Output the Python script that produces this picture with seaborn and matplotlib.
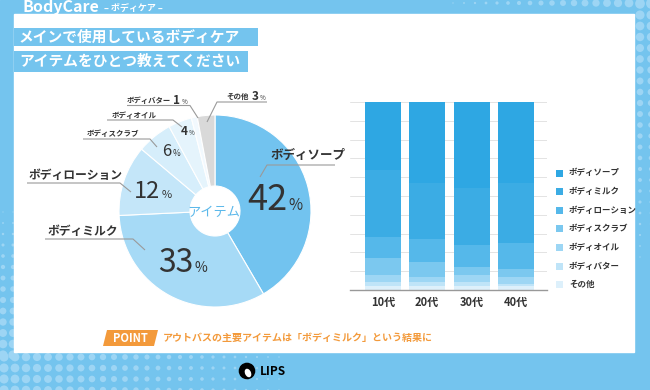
import numpy as np
import pandas as pd
import matplotlib
matplotlib.use("Agg")
import matplotlib.pyplot as plt
from matplotlib.patches import Rectangle, Polygon, Circle, Ellipse
import seaborn as sns

# データ
items = ["ボディソープ", "ボディミルク", "ボディローション", "ボディスクラブ",
         "ボディオイル", "ボディバター", "その他"]
share = [42, 33, 12, 6, 4, 1, 3]

ages = ["10代", "20代", "30代", "40代"]
soap = [36, 43, 46, 43]
milk = [36, 30, 30, 32]
lotion = [11, 12, 12, 14]
scrub = [9, 8, 4, 4]
oil = [4, 3, 4, 4]
butter = [2, 2, 2, 1]
other = [2, 2, 2, 2]

pie_colors = ["#72C3EF", "#A6DAF6", "#C4E6F9", "#D6EEFB", "#E5F4FC", "#F2F9FE", "#D9D9D9"]
bar_colors = ["#2EA7E3", "#3BACE4", "#55B8EA", "#7BC8EF", "#9DD6F4", "#BFE4F8", "#DDF0FB"]

BG = "#74C4EE"
DOT = "#9DD5F4"
TXT = "#333333"
ORANGE = "#F39A3B"

sns.set_style("white")
plt.rcParams["font.family"] = ["Noto Sans CJK JP", "DejaVu Sans"]

W, H = 650, 390
fig = plt.figure(figsize=(6.5, 3.9), dpi=100)


def px_axes(x0, y0, w, h):
    # 左上基準のピクセル座標で軸を置く
    return fig.add_axes([x0 / W, 1 - (y0 + h) / H, w / W, h / H])


# 背景
bg = px_axes(0, 0, W, H)
bg.set_xlim(0, W)
bg.set_ylim(H, 0)
bg.axis("off")
bg.set_zorder(0)
bg.add_patch(Rectangle((0, 0), W, H, color=BG))
# 水玉模様（装飾）
for x in range(4, 330, 11):
    for y in range(357, 392, 11):
        r = 4.6 * (1 - x / 330)
        if r > 0.6:
            bg.add_patch(Circle((x, y), r, color=DOT, lw=0))
for x in range(3, 15, 10):
    for y in range(190, 356, 11):
        r = 4.6 * (y - 190) / 165
        if r > 0.6:
            bg.add_patch(Circle((x, y), r, color=DOT, lw=0))
for x in range(640, 655, 11):
    for y in range(4, 300, 11):
        r = 4.8 * (1 - y / 300)
        if r > 0.6:
            bg.add_patch(Circle((x, y), r, color=DOT, lw=0))
for x in range(420, 655, 11):
    for y in range(3, 14, 11):
        r = 4.8 * (x - 420) / 230
        if r > 0.6:
            bg.add_patch(Circle((x, y), r, color=DOT, lw=0))
bg.add_patch(Rectangle((14, 14), 620, 338, color="white"))

# 円グラフ
cx, cy, R = 215, 211, 96
pax = px_axes(cx - R, cy - R, 2 * R, 2 * R)
pax.set_zorder(1)
pax.pie(share, colors=pie_colors, startangle=90, counterclock=False,
        wedgeprops=dict(width=1 - 25 / R, edgecolor="white", linewidth=0.8))
pax.set_xlim(-1, 1)
pax.set_ylim(-1, 1)
pax.axis("off")

# 積み上げ棒グラフ
df = pd.DataFrame({"age": ages, items[0]: soap, items[1]: milk, items[2]: lotion,
                   items[3]: scrub, items[4]: oil, items[5]: butter, items[6]: other})
bax = px_axes(350, 102, 197, 188)
bax.set_zorder(1)
for i, name in enumerate(items):
    top = df[items[i:]].sum(axis=1)
    sns.barplot(x=df["age"], y=top, color=bar_colors[i], saturation=1,
                width=0.81, linewidth=0, ax=bax)
bax.set_xlim(-0.74, 3.70)
bax.set_ylim(0, 100)
bax.set_yticks(range(10, 101, 10))
bax.yaxis.grid(True, color="#E3E3E3", lw=0.7)
bax.set_axisbelow(True)
bax.tick_params(axis="y", left=False, labelleft=False)
bax.tick_params(axis="x", bottom=False, labelsize=8, colors=TXT, pad=1)
for lab in bax.get_xticklabels():
    lab.set_fontweight("bold")
for s in ["left", "right", "top"]:
    bax.spines[s].set_visible(False)
bax.spines["bottom"].set_color("#999999")
bax.spines["bottom"].set_linewidth(1)
bax.set_xlabel("")
bax.set_ylabel("")

# 注記レイヤー
ov = px_axes(0, 0, W, H)
ov.set_xlim(0, W)
ov.set_ylim(H, 0)
ov.axis("off")
ov.set_zorder(3)
ov.patch.set_alpha(0)

# ヘッダー
ov.text(22, 7, "BodyCare", color="white", fontsize=11.5, fontweight="bold", va="center")
ov.text(104, 8, "– ボディケア –", color="white", fontsize=6.5, fontweight="bold", va="center")
ov.add_patch(Rectangle((14, 27.5), 244, 18.5, color=BG, lw=0))
ov.add_patch(Rectangle((14, 50.5), 234, 21, color=BG, lw=0))
ov.text(19, 37, "メインで使用しているボディケア", color="white", fontsize=10.6,
        fontweight="bold", va="center")
ov.text(19, 61, "アイテムをひとつ教えてください", color="white", fontsize=10.6,
        fontweight="bold", va="center")

# 円グラフのラベル
LINE = "#9A9A9A"


def leader(pts):
    xs, ys = zip(*pts)
    ov.plot(xs, ys, color=LINE, lw=0.8, solid_capstyle="butt")


def pct(x, base, value, size, psize):
    ov.text(x, base, str(value), color=TXT, fontsize=size, ha="right", va="baseline")
    ov.text(x + 1.5, base, "%", color=TXT, fontsize=psize, ha="left", va="baseline")


def small_pct(x, base, value):
    ov.text(x, base, str(value), color=TXT, fontsize=8.5, fontweight="bold",
            ha="right", va="baseline")
    ov.text(x + 1, base, "%", color=TXT, fontsize=4.5, ha="left", va="baseline")


# ボディソープ
ov.text(270, 155, items[0], color=TXT, fontsize=9, fontweight="bold", va="center")
leader([(335, 165), (267, 165), (260, 177)])
pct(287, 210, share[0], 26, 11)
# ボディミルク
ov.text(48, 232, items[1], color=TXT, fontsize=8.5, fontweight="bold", va="center")
leader([(45, 239), (133, 239), (145, 250)])
pct(193, 272, share[1], 23, 10)
# ボディローション
ov.text(29, 176, items[2], color=TXT, fontsize=8.5, fontweight="bold", va="center")
leader([(27, 183), (120, 183), (131, 192)])
pct(160, 198, share[2], 17, 8)
# ボディスクラブ
ov.text(87, 133, items[3], color=TXT, fontsize=5.4, fontweight="bold", va="center")
leader([(83, 139), (150, 139), (157, 147)])
pct(171, 156, share[3], 12, 6)
# ボディオイル
ov.text(112, 115, items[4], color=TXT, fontsize=5.4, fontweight="bold", va="center")
leader([(107, 120), (173, 120), (182, 127)])
small_pct(187.5, 135, share[4])
# ボディバター
ov.text(127, 100.5, items[5], color=TXT, fontsize=5.3, fontweight="bold", va="center")
leader([(127, 105.5), (190, 105.5), (198, 118)])
small_pct(180.5, 103.5, share[5])
# その他
ov.text(226, 96, items[6], color=TXT, fontsize=5.4, fontweight="bold", va="center")
leader([(267, 102), (217, 102), (207, 122)])
small_pct(259, 99.5, share[6])
# 中心
ov.text(cx - 1, cy + 1, "アイテム", color="#5BB8EA", fontsize=9.5, ha="center", va="center")

# 凡例
for i, name in enumerate(items):
    y = 173 + i * 18.6
    ov.add_patch(Rectangle((556, y - 3.5), 7, 7, color=bar_colors[i], lw=0))
    ov.text(569, y, name, color=TXT, fontsize=6.1, fontweight="bold", va="center")

# POINT
ov.add_patch(Polygon([(107, 330), (158, 330), (154, 346), (103, 346)],
                     closed=True, color=ORANGE, lw=0))
ov.text(130, 338.5, "POINT", color="white", fontsize=8, fontweight="bold",
        ha="center", va="center")
ov.text(163, 338, "アウトバスの主要アイテムは「ボディミルク」という結果に",
        color=ORANGE, fontsize=7.2, fontweight="bold", va="center")

# ロゴ
ov.add_patch(Circle((247, 371), 8.3, color="black", lw=0))
ov.add_patch(Ellipse((248, 373), 6, 9, angle=-25, color="white", lw=0))
ov.text(260, 371.5, "LIPS", color="black", fontsize=8.5, fontweight="bold", va="center")

fig.savefig("out.png", dpi=100)
